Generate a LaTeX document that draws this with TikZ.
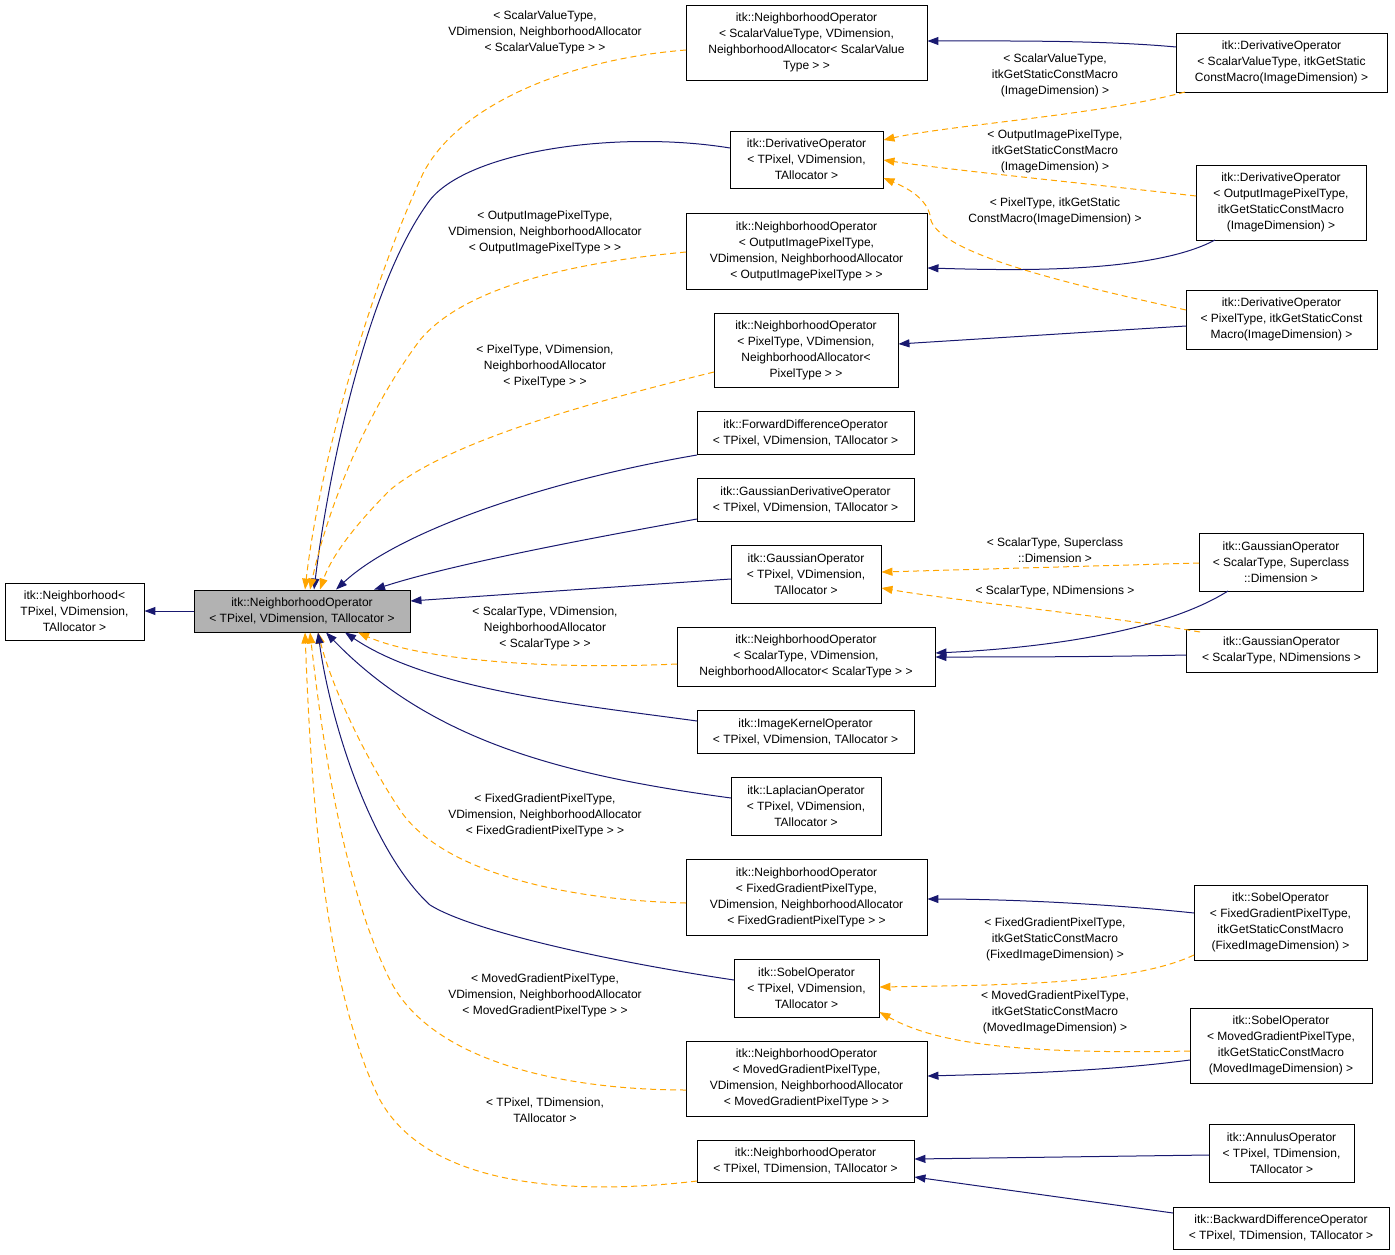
\documentclass[tikz,border=0pt]{standalone}
\usepackage{fontspec}
\setmainfont{Liberation Sans}
\usetikzlibrary{arrows.meta}
\definecolor{nav}{HTML}{191970}
\definecolor{org}{HTML}{FFA500}
\begin{document}
\begin{tikzpicture}[x=1pt,y=-1pt,
  box/.style={draw=black,line width=0.9pt,inner sep=0pt,align=center,font=\fontsize{12}{16}\selectfont},
  inh/.style={draw=nav,line width=1pt,-{Triangle[length=11pt,width=8pt]}},
  tpl/.style={draw=org,line width=1pt,dash pattern=on 6pt off 4pt,-{Triangle[length=11pt,width=8pt,fill=org]}},
  lab/.style={align=center,inner sep=0pt,font=\fontsize{12}{16}\selectfont}]
\useasboundingbox (0,0) rectangle (1395,1255);
\newcommand\bx[7][white]{\node[box,fill=#1,minimum width={(#5-#3)*1pt},minimum height={(#6-#4)*1pt}] (#2) at ({(#3+#5)/2},{(#4+#6)/2}) {#7};}
\bx{n1}{5}{583}{144}{640}{itk::Neighborhood<\\TPixel, VDimension,\\TAllocator >}
\bx[black!30]{m}{194}{590}{410}{632}{itk::NeighborhoodOperator\\< TPixel, VDimension, TAllocator >}
\bx{n3}{686}{5}{927}{80}{itk::NeighborhoodOperator\\< ScalarValueType, VDimension,\\NeighborhoodAllocator< ScalarValue\\Type > >}
\bx{n4}{730}{131}{883}{188}{itk::DerivativeOperator\\< TPixel, VDimension,\\TAllocator >}
\bx{n5}{686}{213}{927}{289}{itk::NeighborhoodOperator\\< OutputImagePixelType,\\VDimension, NeighborhoodAllocator\\< OutputImagePixelType > >}
\bx{n6}{714}{313}{898}{387}{itk::NeighborhoodOperator\\< PixelType, VDimension,\\NeighborhoodAllocator<\\PixelType > >}
\bx{n7}{697}{411}{914}{454}{itk::ForwardDifferenceOperator\\< TPixel, VDimension, TAllocator >}
\bx{n8}{697}{478}{914}{521}{itk::GaussianDerivativeOperator\\< TPixel, VDimension, TAllocator >}
\bx{n9}{731}{545}{881}{603}{itk::GaussianOperator\\< TPixel, VDimension,\\TAllocator >}
\bx{n10}{677}{627}{935}{686}{itk::NeighborhoodOperator\\< ScalarType, VDimension,\\NeighborhoodAllocator< ScalarType > >}
\bx{n11}{697}{710}{914}{753}{itk::ImageKernelOperator\\< TPixel, VDimension, TAllocator >}
\bx{n12}{731}{777}{881}{835}{itk::LaplacianOperator\\< TPixel, VDimension,\\TAllocator >}
\bx{n13}{686}{859}{927}{935}{itk::NeighborhoodOperator\\< FixedGradientPixelType,\\VDimension, NeighborhoodAllocator\\< FixedGradientPixelType > >}
\bx{n14}{734}{959}{879}{1017}{itk::SobelOperator\\< TPixel, VDimension,\\TAllocator >}
\bx{n15}{686}{1041}{927}{1116}{itk::NeighborhoodOperator\\< MovedGradientPixelType,\\VDimension, NeighborhoodAllocator\\< MovedGradientPixelType > >}
\bx{n16}{697}{1140}{914}{1182}{itk::NeighborhoodOperator\\< TPixel, TDimension, TAllocator >}
\bx{n17}{1176}{33}{1387}{92}{itk::DerivativeOperator\\< ScalarValueType, itkGetStatic\\ConstMacro(ImageDimension) >}
\bx{n18}{1196}{165}{1366}{240}{itk::DerivativeOperator\\< OutputImagePixelType,\\itkGetStaticConstMacro\\(ImageDimension) >}
\bx{n19}{1186}{290}{1377}{349}{itk::DerivativeOperator\\< PixelType, itkGetStaticConst\\Macro(ImageDimension) >}
\bx{n20}{1199}{533}{1363}{591}{itk::GaussianOperator\\< ScalarType, Superclass\\::Dimension >}
\bx{n21}{1186}{629}{1377}{672}{itk::GaussianOperator\\< ScalarType, NDimensions >}
\bx{n22}{1194}{885}{1367}{960}{itk::SobelOperator\\< FixedGradientPixelType,\\itkGetStaticConstMacro\\(FixedImageDimension) >}
\bx{n23}{1190}{1008}{1372}{1083}{itk::SobelOperator\\< MovedGradientPixelType,\\itkGetStaticConstMacro\\(MovedImageDimension) >}
\bx{n24}{1209}{1124}{1354}{1182}{itk::AnnulusOperator\\< TPixel, TDimension,\\TAllocator >}
\bx{n25}{1173}{1207}{1389}{1249}{itk::BackwardDifferenceOperator\\< TPixel, TDimension, TAllocator >}
% into main
\draw[inh] (m.west) -- (n1.east|-m.west);
\draw[tpl] (686,50) .. controls (560,60) and (450,110) .. (420,180) .. controls (370,290) and (320,460) .. (m.north-|305,0);
\draw[inh] (730,148) .. controls (620,130) and (470,150) .. (430,200) .. controls (370,280) and (330,460) .. (m.north-|314,0);
\draw[tpl] (686,252) .. controls (600,260) and (470,280) .. (420,340) .. controls (360,420) and (325,520) .. (m.north-|310,0);
\draw[tpl] (714,372) .. controls (600,400) and (450,440) .. (390,490) .. controls (350,530) and (330,560) .. (m.north-|320,0);
\draw[inh] (697,455) .. controls (550,480) and (400,530) .. (m.north-|336,0);
\draw[inh] (697,519) .. controls (580,540) and (450,565) .. (m.north-|374,0);
\draw[inh] (731,579) -- (m.east|-0,601);
\draw[tpl] (677,664) .. controls (550,670) and (420,660) .. (m.south-|358,0);
\draw[inh] (697,721) .. controls (580,705) and (430,690) .. (m.south-|345,0);
\draw[inh] (731,798) .. controls (560,775) and (430,740) .. (m.south-|326,0);
\draw[tpl] (686,903) .. controls (560,900) and (440,870) .. (400,810) .. controls (360,750) and (330,680) .. (m.south-|318,0);
\draw[inh] (734,980) .. controls (600,960) and (470,930) .. (430,905) .. controls (370,850) and (330,720) .. (m.south-|318,0);
\draw[tpl] (686,1090) .. controls (560,1090) and (430,1060) .. (390,980) .. controls (340,880) and (320,720) .. (m.south-|310,0);
\draw[tpl] (697,1181) .. controls (580,1195) and (430,1190) .. (380,1100) .. controls (320,980) and (310,760) .. (m.south-|305,0);
% right side
\draw[inh] (1176,47) .. controls (1100,40) and (1000,41) .. (n3.east|-0,41);
\draw[tpl] (1185,92) .. controls (1100,115) and (950,125) .. (n4.east|-0,140);
\draw[tpl] (1196,196) .. controls (1100,185) and (950,170) .. (n4.east|-0,160);
\draw[tpl] (1186,310) .. controls (1050,280) and (930,250) .. (930,215) .. controls (925,195) and (900,185) .. (n4.east|-0,178);
\draw[inh] (1215,240) .. controls (1150,275) and (1000,270) .. (n5.east|-0,268);
\draw[inh] (1186,326) -- (n6.east|-0,344);
\draw[tpl] (1199,563) -- (n9.east|-0,572);
\draw[tpl] (1200,632) .. controls (1100,615) and (950,600) .. (n9.east|-0,588);
\draw[inh] (1228,591) .. controls (1150,640) and (1000,650) .. (n10.east|-0,653);
\draw[inh] (1186,655) .. controls (1100,657) and (1000,657) .. (n10.east|-0,657);
\draw[inh] (1194,913) .. controls (1100,903) and (1000,899) .. (n13.east|-0,899);
\draw[tpl] (1194,955) .. controls (1130,985) and (1000,985) .. (n14.east|-0,987);
\draw[tpl] (1190,1051) .. controls (1000,1055) and (930,1040) .. (n14.east|-0,1012);
\draw[inh] (1190,1060) .. controls (1100,1072) and (1000,1074) .. (n15.east|-0,1076);
\draw[inh] (1209,1155) -- (n16.east|-0,1159);
\draw[inh] (1173,1213) -- (n16.east|-0,1177);
% labels
\node[lab] (l3) at (545,32) {< ScalarValueType,\\VDimension, NeighborhoodAllocator\\< ScalarValueType > >};
\node[lab] (l5) at (545,232) {< OutputImagePixelType,\\VDimension, NeighborhoodAllocator\\< OutputImagePixelType > >};
\node[lab] (l6) at (545,366) {< PixelType, VDimension,\\NeighborhoodAllocator\\< PixelType > >};
\node[lab] (l10) at (545,628) {< ScalarType, VDimension,\\NeighborhoodAllocator\\< ScalarType > >};
\node[lab] (l13) at (545,815) {< FixedGradientPixelType,\\VDimension, NeighborhoodAllocator\\< FixedGradientPixelType > >};
\node[lab] (l15) at (545,995) {< MovedGradientPixelType,\\VDimension, NeighborhoodAllocator\\< MovedGradientPixelType > >};
\node[lab] (l16) at (545,1110) {< TPixel, TDimension,\\TAllocator >};
\node[lab] (l17) at (1055,75) {< ScalarValueType,\\itkGetStaticConstMacro\\(ImageDimension) >};
\node[lab] (l18) at (1055,151) {< OutputImagePixelType,\\itkGetStaticConstMacro\\(ImageDimension) >};
\node[lab] (l19) at (1055,211) {< PixelType, itkGetStatic\\ConstMacro(ImageDimension) >};
\node[lab] (l20) at (1055,550) {< ScalarType, Superclass\\::Dimension >};
\node[lab] (l21) at (1055,591) {< ScalarType, NDimensions >};
\node[lab] (l22) at (1055,939) {< FixedGradientPixelType,\\itkGetStaticConstMacro\\(FixedImageDimension) >};
\node[lab] (l23) at (1055,1012) {< MovedGradientPixelType,\\itkGetStaticConstMacro\\(MovedImageDimension) >};
\end{tikzpicture}
\end{document}
